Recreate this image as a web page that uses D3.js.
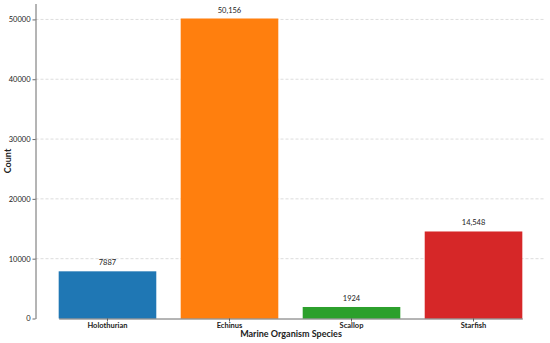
<!DOCTYPE html>
<html><head><meta charset="utf-8">
<script src="https://cdn.jsdelivr.net/npm/d3@7"></script>
<style>body{margin:0;background:#fff}svg{display:block}text{font-family:Lato,"Open Sans",sans-serif}</style>
</head><body><svg id="c" width="550" height="343"></svg>
<script>
const categories = ["Holothurian","Echinus","Scallop","Starfish"];
const counts = [7887, 50156, 1924, 14548];
const valueLabels = ["7887","50,156","1924","14,548"];
const colors = ["#1f77b4","#ff7f0e","#2ca02c","#d62728"];
const yTicks = [0,10000,20000,30000,40000,50000];

const svg = d3.select("#c");
const L=35.5, R=545.5, T=3.5, B=318.5;
const x = d3.scaleBand().domain(categories).range([L+0.19*122, R-0.19*122]).paddingInner(0.2).paddingOuter(0);
const y = d3.scaleLinear().domain([0, 50156*1.05]).range([B, T]);

// grid
svg.append("g").selectAll("line").data(yTicks.slice(1)).join("line")
  .attr("x1",L).attr("x2",R).attr("y1",d=>y(d)).attr("y2",d=>y(d))
  .attr("stroke","#d3d3d3").attr("stroke-width",0.8).attr("stroke-dasharray","3,2");

// bars
svg.append("g").selectAll("rect").data(categories).join("rect")
  .attr("x",d=>x(d)).attr("width",x.bandwidth())
  .attr("y",(d,i)=>y(counts[i])).attr("height",(d,i)=>B-y(counts[i]))
  .attr("fill",(d,i)=>colors[i]);

// value labels
svg.append("g").selectAll("text").data(categories).join("text")
  .attr("x",d=>x(d)+x.bandwidth()/2).attr("y",(d,i)=>y(counts[i])-6)
  .attr("text-anchor","middle").attr("font-size",7.5).attr("fill","#222")
  .text((d,i)=>valueLabels[i]);

// axes
const ya = svg.append("g").attr("transform",`translate(${L},0)`)
  .call(d3.axisLeft(y).tickValues(yTicks).tickFormat(d3.format("d")).tickSize(3).tickSizeOuter(0).tickPadding(2));
const xa = svg.append("g").attr("transform",`translate(0,${B})`)
  .call(d3.axisBottom(x).tickSize(3).tickSizeOuter(0).tickPadding(1));
[ya,xa].forEach(a=>{
  a.select(".domain").attr("stroke","#444").attr("stroke-width",0.8);
  a.selectAll(".tick line").attr("stroke","#444").attr("stroke-width",0.8);
  a.selectAll(".tick text").attr("font-size",7.5).attr("fill","#222").attr("font-family","Lato,'Open Sans',sans-serif");
});
xa.selectAll(".tick text").attr("font-weight","bold");

svg.append("text").attr("x",291).attr("y",337).attr("text-anchor","middle")
  .attr("font-size",9).attr("font-weight","bold").attr("fill","#222").text("Marine Organism Species");
svg.append("text").attr("transform",`translate(11,${(T+B)/2}) rotate(-90)`).attr("text-anchor","middle")
  .attr("font-size",9).attr("font-weight","bold").attr("fill","#222").text("Count");
</script></body></html>
